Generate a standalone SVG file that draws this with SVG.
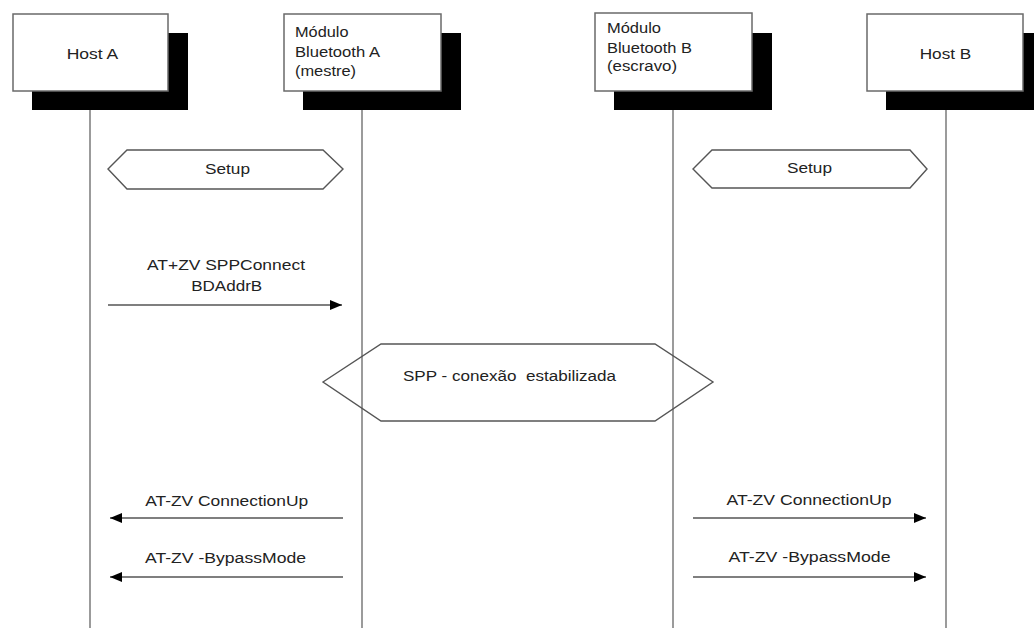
<svg xmlns="http://www.w3.org/2000/svg" width="1034" height="628" viewBox="0 0 1034 628">
  <style>
    .shadow { fill: #000; }
    .box { fill: #fff; stroke: #6a6a6a; stroke-width: 1.5; }
    .life { stroke: #7a7a7a; stroke-width: 1.5; fill: none; }
    .hex { fill: none; stroke: #555; stroke-width: 1.4; }
    .msg { stroke: #000; stroke-width: 1.2; fill: none; marker-end: url(#head); }
    text { font-family: "Liberation Sans", Arial, sans-serif; font-size: 15.5px; fill: #222; }
    .c { text-anchor: middle; }
  </style>
  <defs>
    <marker id="head" viewBox="0 0 12 10" refX="12" refY="5" markerWidth="12" markerHeight="10" markerUnits="userSpaceOnUse" orient="auto">
      <path d="M0,0 L12,5 L0,10 Z" fill="#000"/>
    </marker>
  </defs>

  <rect width="1034" height="628" fill="#fff"/>

  <!-- lifelines -->
  <g id="lifelines">
    <line class="life" x1="90" y1="110" x2="90" y2="628"/>
    <line class="life" x1="362" y1="110" x2="362" y2="628"/>
    <line class="life" x1="673" y1="110" x2="673" y2="628"/>
    <line class="life" x1="946" y1="110" x2="946" y2="628"/>
  </g>

  <g id="host-a">
    <rect class="shadow" x="32" y="33" width="156" height="77"/>
    <rect class="box" x="13" y="14" width="155" height="77"/>
    <text class="c" x="92.5" y="59" textLength="51.6" lengthAdjust="spacingAndGlyphs">Host A</text>
  </g>

  <g id="modulo-a">
    <rect class="shadow" x="303" y="33" width="158" height="77"/>
    <rect class="box" x="284" y="14" width="157" height="77"/>
    <text x="295" y="37" textLength="53.5" lengthAdjust="spacingAndGlyphs">Módulo</text>
    <text x="295" y="57" textLength="85" lengthAdjust="spacingAndGlyphs">Bluetooth A</text>
    <text x="295" y="76" textLength="61" lengthAdjust="spacingAndGlyphs">(mestre)</text>
  </g>

  <g id="modulo-b">
    <rect class="shadow" x="614" y="33" width="158" height="77"/>
    <rect class="box" x="595" y="13" width="157" height="78"/>
    <text x="607" y="33" textLength="54" lengthAdjust="spacingAndGlyphs">Módulo</text>
    <text x="607" y="53" textLength="85" lengthAdjust="spacingAndGlyphs">Bluetooth B</text>
    <text x="607" y="71" textLength="70" lengthAdjust="spacingAndGlyphs">(escravo)</text>
  </g>

  <g id="host-b">
    <rect class="shadow" x="886" y="33" width="160" height="77"/>
    <rect class="box" x="867" y="14" width="156" height="77"/>
    <text class="c" x="945.5" y="59" textLength="51.6" lengthAdjust="spacingAndGlyphs">Host B</text>
  </g>

  <!-- setup phases -->
  <g id="setup-a">
    <polygon class="hex" points="108,169 127,150 323,150 343,169 323,189 127,189"/>
    <text class="c" x="227.5" y="174" textLength="45" lengthAdjust="spacingAndGlyphs">Setup</text>
  </g>
  <g id="setup-b">
    <polygon class="hex" points="693,169 712,150 910,150 927,169 910,188 712,188"/>
    <text class="c" x="809.5" y="173" textLength="45" lengthAdjust="spacingAndGlyphs">Setup</text>
  </g>

  <g id="spp-connection">
    <polygon class="hex" points="323,382 381,344 655,344 713,382 655,421 381,421"/>
    <text class="c" x="509.5" y="381" xml:space="preserve" textLength="213" lengthAdjust="spacingAndGlyphs">SPP - conexão  estabilizada</text>
  </g>

  <!-- messages -->
  <g id="connectors">
    <line class="msg" x1="108" y1="305" x2="342" y2="305"/>
    <line class="msg" x1="343" y1="518" x2="110" y2="518"/>
    <line class="msg" x1="343" y1="577" x2="110" y2="577"/>
    <line class="msg" x1="693" y1="518" x2="926" y2="518"/>
    <line class="msg" x1="693" y1="577" x2="926" y2="577"/>
  </g>

  <g id="labels">
    <text class="c" x="226" y="270" textLength="158" lengthAdjust="spacingAndGlyphs">AT+ZV SPPConnect</text>
    <text class="c" x="226.7" y="290.5" textLength="71" lengthAdjust="spacingAndGlyphs">BDAddrB</text>
    <text class="c" x="226.7" y="506" textLength="163" lengthAdjust="spacingAndGlyphs">AT-ZV ConnectionUp</text>
    <text class="c" x="225.5" y="563" textLength="161" lengthAdjust="spacingAndGlyphs">AT-ZV -BypassMode</text>
    <text class="c" x="809" y="504.5" textLength="165" lengthAdjust="spacingAndGlyphs">AT-ZV ConnectionUp</text>
    <text class="c" x="809.5" y="562" textLength="162" lengthAdjust="spacingAndGlyphs">AT-ZV -BypassMode</text>
  </g>
</svg>
